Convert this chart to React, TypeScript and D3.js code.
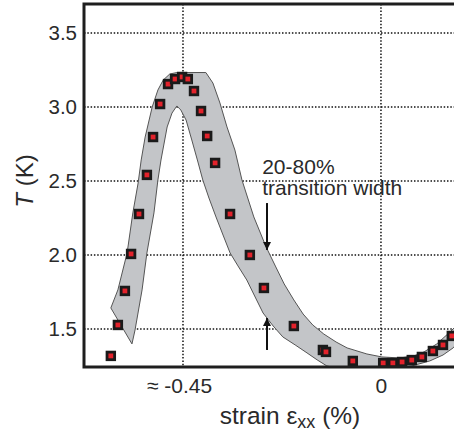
import React, { useRef, useEffect } from "react";
import * as d3 from "d3";

// measured points (strain %, T in K)
const pointStrain = [
  -0.614, -0.598, -0.582, -0.568, -0.55, -0.532, -0.518, -0.502, -0.484, -0.468,
  -0.452, -0.439, -0.425, -0.409, -0.395, -0.377, -0.343, -0.298, -0.266, -0.198,
  -0.132, -0.125, -0.064, 0.005, 0.027, 0.048, 0.07, 0.093, 0.118, 0.141, 0.161,
];
const pointT = [
  1.318, 1.527, 1.757, 2.007, 2.277, 2.541, 2.797, 3.02, 3.155, 3.189,
  3.203, 3.189, 3.108, 2.973, 2.804, 2.622, 2.277, 2.0, 1.777, 1.52,
  1.358, 1.345, 1.284, 1.27, 1.27, 1.277, 1.29, 1.311, 1.351, 1.392, 1.453,
];

// 20-80% transition band outline, traced clockwise
const bandStrain = [
  -0.614, -0.598, -0.577, -0.564, -0.552, -0.545, -0.536, -0.52, -0.507, -0.495, -0.48, -0.464,
  -0.398, -0.382, -0.366, -0.35, -0.332, -0.316, -0.289, -0.261, -0.239, -0.22, -0.198, -0.177,
  -0.155, -0.13, -0.102, -0.077, -0.032, 0.002, 0.043, 0.075, 0.098, 0.127, 0.157, 0.18,
  0.18, 0.164, 0.141, 0.111, 0.07, 0.032, -0.093, -0.123,
  -0.145, -0.168, -0.195, -0.223, -0.245, -0.268, -0.286, -0.305, -0.325, -0.343, -0.359, -0.375,
  -0.391, -0.405, -0.416, -0.43, -0.443, -0.455, -0.464,
  -0.475, -0.486, -0.5, -0.507, -0.516, -0.532, -0.543, -0.559, -0.566,
];
const bandT = [
  1.642, 1.764, 2.014, 2.284, 2.486, 2.642, 2.797, 3.0, 3.115, 3.182, 3.223, 3.233,
  3.233, 3.162, 3.027, 2.865, 2.709, 2.507, 2.257, 2.054, 1.919, 1.804, 1.696, 1.601,
  1.527, 1.466, 1.412, 1.372, 1.331, 1.311, 1.304, 1.318, 1.345, 1.399, 1.48, 1.547,
  1.426, 1.372, 1.324, 1.284, 1.25, 1.23, 1.23, 1.25,
  1.291, 1.338, 1.392, 1.446, 1.52, 1.608, 1.716, 1.831, 1.926, 2.014, 2.135, 2.257,
  2.385, 2.507, 2.628, 2.777, 2.912, 2.98, 3.007,
  2.959, 2.865, 2.642, 2.507, 2.284, 2.014, 1.764, 1.493, 1.399,
];

const xTicks = [-0.45, 0];
const xTickLabels = ["≈ -0.45", "0"];
const yTicks = [1.5, 2.0, 2.5, 3.0, 3.5];

// annotation arrows: [strain, T from, T to]
const arrowDown = [-0.259, 2.351, 2.034];
const arrowUp = [-0.259, 1.358, 1.574];

const App = () => {
  const svgRef = useRef<SVGSVGElement>(null);

  useEffect(() => {
    const svg = d3.select(svgRef.current);
    svg.selectAll("*").remove();

    const width = 454;
    const height = 434;
    const left = 84;
    const top = 4;
    const bottom = 367;
    const font = "'Liberation Sans', Arial, sans-serif";
    const textColor = "#2a2a2a";

    const x = d3.scaleLinear().domain([-0.675, 0.166]).range([left, width]);
    const y = d3.scaleLinear().domain([1.243, 3.696]).range([bottom, top]);

    svg.attr("width", width).attr("height", height);

    svg.append("defs")
      .append("clipPath")
      .attr("id", "plotClip")
      .append("rect")
      .attr("x", left)
      .attr("y", top)
      .attr("width", width - left)
      .attr("height", bottom - top);

    svg.append("defs")
      .append("marker")
      .attr("id", "head")
      .attr("viewBox", "0 0 10 10")
      .attr("refX", 10)
      .attr("refY", 5)
      .attr("markerWidth", 4)
      .attr("markerHeight", 4.5)
      .attr("markerUnits", "strokeWidth")
      .attr("orient", "auto")
      .append("path")
      .attr("d", "M0,0 L10,5 L0,10 Z")
      .attr("fill", "#111");

    // grid
    const grid = svg.append("g")
      .attr("stroke", "#111")
      .attr("stroke-width", 1.5)
      .attr("stroke-dasharray", "1.5,1.8");

    grid.selectAll("line.h")
      .data(yTicks)
      .join("line")
      .attr("class", "h")
      .attr("x1", left)
      .attr("x2", width)
      .attr("y1", d => y(d))
      .attr("y2", d => y(d));

    grid.selectAll("line.v")
      .data(xTicks)
      .join("line")
      .attr("class", "v")
      .attr("x1", d => x(d))
      .attr("x2", d => x(d))
      .attr("y1", top)
      .attr("y2", bottom);

    // band
    const band = bandStrain.map((s, i) => [x(s), y(bandT[i])] as [number, number]);
    svg.append("path")
      .attr("clip-path", "url(#plotClip)")
      .attr("d", d3.line().curve(d3.curveLinearClosed)(band))
      .attr("fill", "#c3c5c8")
      .attr("stroke", "#555")
      .attr("stroke-width", 1);

    // points
    const size = 7.6;
    svg.append("g")
      .attr("clip-path", "url(#plotClip)")
      .selectAll("rect")
      .data(pointStrain.map((s, i) => ({ s, t: pointT[i] })))
      .join("rect")
      .attr("x", d => x(d.s) - size / 2)
      .attr("y", d => y(d.t) - size / 2)
      .attr("width", size)
      .attr("height", size)
      .attr("fill", "#e3222b")
      .attr("stroke", "#1a1a1a")
      .attr("stroke-width", 2.8);

    // arrows
    [arrowDown, arrowUp].forEach(a => {
      svg.append("line")
        .attr("x1", x(a[0]))
        .attr("x2", x(a[0]))
        .attr("y1", y(a[1]))
        .attr("y2", y(a[2]))
        .attr("stroke", "#111")
        .attr("stroke-width", 2)
        .attr("marker-end", "url(#head)");
    });

    const note = svg.append("text")
      .attr("font-family", font)
      .attr("font-size", 21)
      .attr("fill", textColor);
    note.append("tspan").attr("x", x(-0.27)).attr("y", y(2.547)).text("20-80%");
    note.append("tspan").attr("x", x(-0.27)).attr("y", y(2.405)).text("transition width");

    // frame
    svg.append("path")
      .attr("d", `M${width + 2},${top} H${left} V${bottom} H${width + 2}`)
      .attr("fill", "none")
      .attr("stroke", "#1e1e1e")
      .attr("stroke-width", 3);

    // axes
    const yAxis = d3.axisLeft(y)
      .tickValues(yTicks)
      .tickSize(0)
      .tickPadding(7)
      .tickFormat(d3.format(".1f"));

    const yg = svg.append("g")
      .attr("transform", `translate(${left},0)`)
      .call(yAxis);
    yg.select(".domain").remove();
    yg.selectAll("text")
      .style("font-family", font)
      .style("font-size", "20.5px")
      .style("fill", textColor);

    const xAxis = d3.axisBottom(x)
      .tickValues(xTicks)
      .tickSize(0)
      .tickPadding(11)
      .tickFormat((d, i) => xTickLabels[i]);

    const xg = svg.append("g")
      .attr("transform", `translate(0,${bottom})`)
      .call(xAxis);
    xg.select(".domain").remove();
    xg.selectAll("text")
      .style("font-family", font)
      .style("font-size", "21px")
      .style("fill", textColor)
      .attr("dx", (d, i) => (i === 0 ? -4 : 0));

    // axis titles
    const xl = svg.append("text")
      .attr("x", 290)
      .attr("y", 424)
      .attr("text-anchor", "middle")
      .attr("font-family", font)
      .attr("font-size", 24.5)
      .attr("fill", textColor);
    xl.append("tspan").text("strain ε");
    xl.append("tspan").attr("font-size", 18).attr("dy", 4).text("xx");
    xl.append("tspan").attr("dy", -4).text(" (%)");

    const yl = svg.append("text")
      .attr("transform", `translate(33,${181}) rotate(-90)`)
      .attr("text-anchor", "middle")
      .attr("font-family", font)
      .attr("font-size", 24)
      .attr("fill", textColor);
    yl.append("tspan").attr("font-style", "italic").text("T");
    yl.append("tspan").text(" (K)");
  }, []);

  return (
    <div style={{ position: "absolute", left: 0, top: 0 }}>
      <svg ref={svgRef} style={{ display: "block" }} />
    </div>
  );
};

export default App;
